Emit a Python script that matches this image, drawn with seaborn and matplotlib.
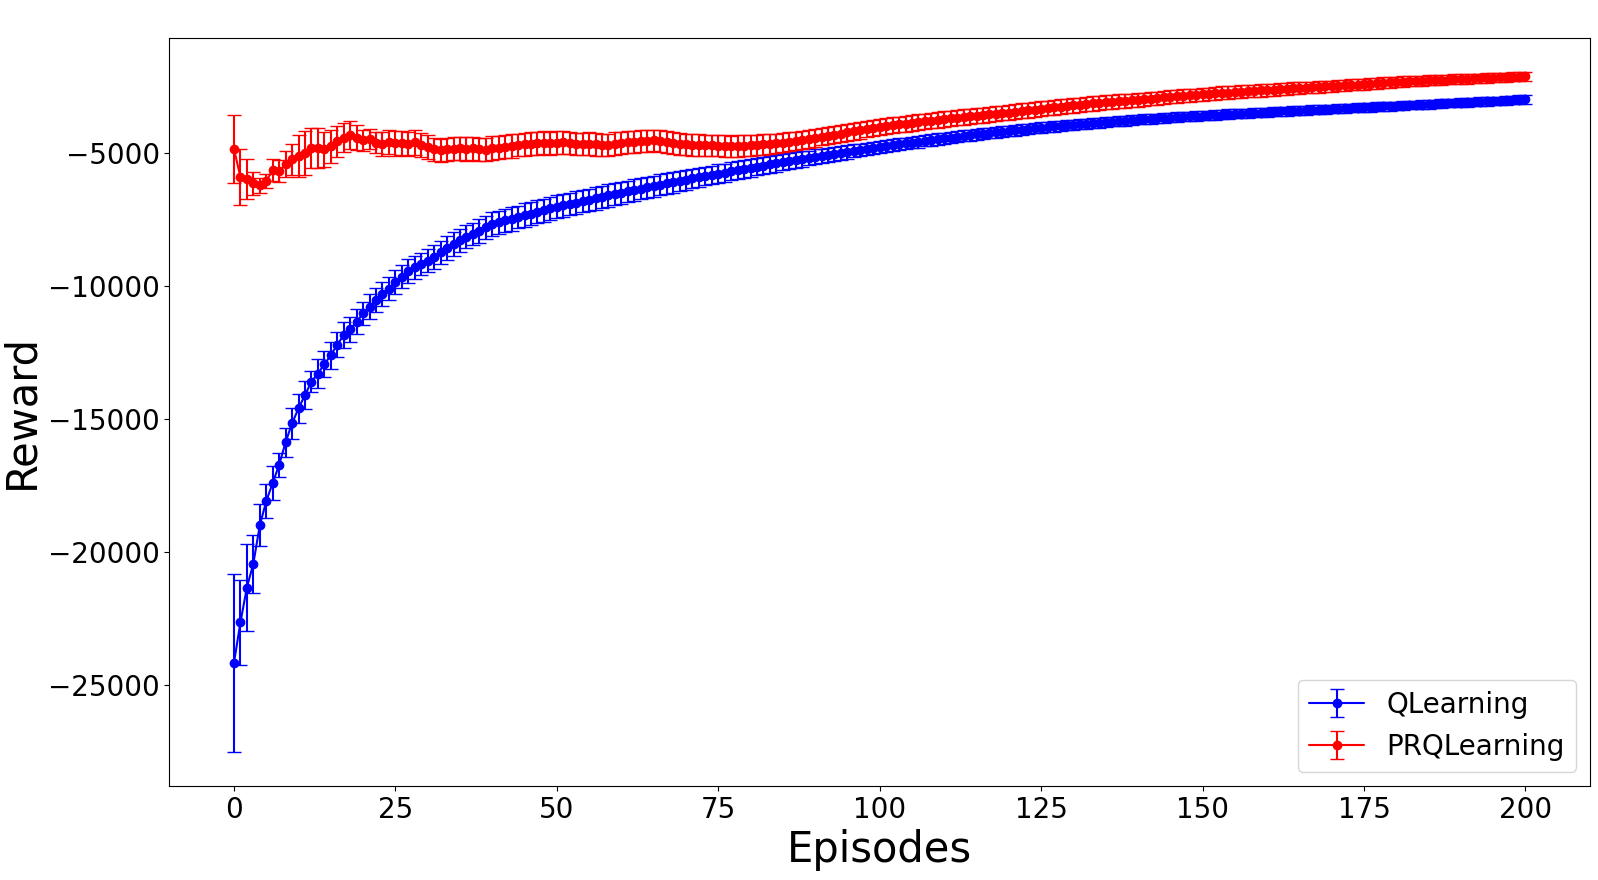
# reward curves for QLearning vs PRQLearning, mean +- error per episode

import numpy as np
import pandas as pd
import matplotlib
matplotlib.use("Agg")
import matplotlib.pyplot as plt
import seaborn as sns

episodes = list(range(201))

q_mean = [
    -24180, -22660, -21350, -20450, -19010, -18100, -17420, -16730, -15880, -15170,
    -14610, -14110, -13600, -13300, -12950, -12610, -12210, -11860, -11640, -11350,
    -11030, -10780, -10520, -10300, -10110, -9860, -9650, -9430, -9300, -9180,
    -9050, -8900, -8740, -8580, -8430, -8280, -8150, -8050, -7930, -7800,
    -7680, -7610, -7540, -7470, -7410, -7340, -7280, -7210, -7150, -7090,
    -7030, -6970, -6920, -6870, -6810, -6760, -6700, -6650, -6600, -6550,
    -6500, -6450, -6400, -6350, -6300, -6250, -6200, -6150, -6110, -6060,
    -6010, -5960, -5920, -5870, -5830, -5780, -5740, -5690, -5650, -5600,
    -5560, -5520, -5480, -5430, -5390, -5350, -5310, -5270, -5230, -5190,
    -5150, -5110, -5070, -5040, -5000, -4960, -4920, -4890, -4850, -4820,
    -4780, -4750, -4710, -4680, -4640, -4610, -4580, -4540, -4510, -4480,
    -4450, -4420, -4390, -4360, -4330, -4300, -4270, -4250, -4220, -4200,
    -4170, -4150, -4120, -4100, -4070, -4050, -4030, -4000, -3980, -3960,
    -3940, -3920, -3900, -3880, -3860, -3840, -3820, -3800, -3790, -3770,
    -3750, -3730, -3720, -3700, -3690, -3670, -3650, -3640, -3620, -3610,
    -3600, -3580, -3570, -3560, -3540, -3530, -3520, -3500, -3490, -3480,
    -3470, -3460, -3440, -3430, -3420, -3410, -3400, -3380, -3370, -3360,
    -3350, -3340, -3320, -3310, -3300, -3290, -3280, -3260, -3250, -3240,
    -3230, -3220, -3200, -3190, -3180, -3170, -3160, -3140, -3130, -3120,
    -3110, -3100, -3080, -3070, -3060, -3050, -3040, -3020, -3010, -3000,
    -2990,
]

q_err = [
    3350, 1610, 1650, 1090, 790, 650, 650, 460, 550, 580,
    540, 520, 400, 530, 480, 500, 470, 490, 460, 480,
    440, 470, 450, 460, 440, 450, 430, 450, 440, 430,
    440, 450, 430, 440, 450, 430, 440, 430, 450, 440,
    440, 430, 440, 450, 430, 440, 430, 440, 430, 440,
    430, 440, 430, 420, 430, 420, 430, 420, 420, 410,
    420, 410, 410, 400, 400, 390, 390, 380, 380, 370,
    370, 360, 360, 350, 350, 350, 340, 340, 340, 330,
    330, 320, 320, 310, 310, 300, 300, 290, 290, 280,
    280, 270, 270, 260, 260, 250, 250, 240, 240, 235,
    230, 230, 225, 225, 220, 220, 220, 215, 215, 215,
    210, 210, 210, 210, 205, 205, 205, 205, 200, 200,
    200, 200, 200, 195, 195, 195, 195, 195, 190, 190,
    190, 190, 190, 190, 185, 185, 185, 185, 185, 185,
    180, 180, 180, 180, 180, 180, 180, 175, 175, 175,
    175, 175, 175, 175, 175, 170, 170, 170, 170, 170,
    170, 170, 170, 170, 170, 165, 165, 165, 165, 165,
    165, 165, 165, 165, 165, 165, 165, 165, 165, 165,
    160, 160, 160, 160, 160, 160, 160, 160, 160, 160,
    160, 160, 160, 160, 160, 160, 160, 160, 160, 160,
    160,
]

prq_mean = [
    -4850, -5910, -5990, -6150, -6210, -6060, -5640, -5680, -5430, -5240,
    -5120, -5000, -4810, -4810, -4870, -4750, -4560, -4430, -4340, -4430,
    -4530, -4490, -4620, -4650, -4600, -4640, -4620, -4660, -4600, -4700,
    -4780, -4860, -4900, -4870, -4840, -4820, -4850, -4830, -4870, -4880,
    -4820, -4800, -4760, -4740, -4700, -4680, -4650, -4640, -4620, -4640,
    -4610, -4600, -4620, -4650, -4670, -4660, -4680, -4700, -4690, -4650,
    -4620, -4600, -4580, -4560, -4540, -4530, -4550, -4590, -4630, -4660,
    -4680, -4690, -4700, -4710, -4720, -4730, -4740, -4750, -4740, -4730,
    -4720, -4700, -4680, -4660, -4640, -4610, -4580, -4550, -4510, -4470,
    -4430, -4390, -4350, -4310, -4270, -4230, -4190, -4150, -4110, -4060,
    -4020, -3990, -3960, -3930, -3900, -3870, -3840, -3810, -3790, -3760,
    -3730, -3700, -3680, -3650, -3630, -3600, -3580, -3550, -3530, -3500,
    -3480, -3450, -3420, -3400, -3370, -3340, -3310, -3290, -3260, -3240,
    -3210, -3190, -3170, -3140, -3120, -3100, -3080, -3060, -3040, -3020,
    -3000, -2980, -2960, -2940, -2910, -2890, -2870, -2850, -2830, -2820,
    -2800, -2780, -2760, -2740, -2730, -2710, -2690, -2680, -2660, -2650,
    -2630, -2620, -2600, -2590, -2570, -2560, -2540, -2530, -2520, -2500,
    -2490, -2470, -2460, -2440, -2430, -2410, -2400, -2380, -2360, -2350,
    -2330, -2320, -2310, -2300, -2280, -2270, -2260, -2250, -2240, -2230,
    -2220, -2210, -2200, -2190, -2180, -2170, -2160, -2150, -2140, -2130,
    -2120,
]

prq_err = [
    1290, 1040, 750, 430, 280, 250, 420, 400, 490, 590,
    800, 840, 750, 750, 650, 620, 590, 550, 530, 470,
    380, 380, 400, 450, 450, 460, 440, 450, 460, 440,
    450, 430, 440, 450, 440, 430, 450, 440, 430, 440,
    450, 440, 430, 440, 430, 420, 430, 420, 430, 420,
    420, 430, 420, 410, 420, 430, 420, 410, 420, 420,
    410, 420, 420, 410, 420, 410, 420, 410, 420, 410,
    410, 420, 410, 400, 410, 400, 410, 400, 400, 390,
    390, 380, 380, 370, 370, 360, 360, 350, 350, 340,
    340, 330, 330, 320, 320, 315, 310, 310, 305, 300,
    300, 300, 300, 295, 295, 295, 295, 290, 290, 290,
    290, 290, 285, 285, 285, 285, 285, 280, 280, 280,
    280, 280, 280, 280, 275, 275, 275, 275, 270, 270,
    270, 270, 265, 265, 265, 260, 260, 260, 255, 255,
    255, 250, 250, 250, 250, 245, 245, 245, 245, 240,
    240, 240, 240, 240, 235, 235, 235, 230, 230, 230,
    230, 225, 225, 225, 220, 220, 220, 215, 215, 215,
    210, 210, 210, 205, 205, 205, 200, 200, 200, 195,
    195, 195, 190, 190, 190, 185, 185, 185, 180, 180,
    180, 180, 175, 175, 175, 175, 175, 170, 170, 170,
    170,
]

df = pd.DataFrame({
    'episode': episodes,
    'QLearning': q_mean, 'QLearning_err': q_err,
    'PRQLearning': prq_mean, 'PRQLearning_err': prq_err,
})

sns.set_style("ticks", {"axes.edgecolor": "black", "xtick.color": "black",
                        "ytick.color": "black", "text.color": "black",
                        "axes.labelcolor": "black"})
plt.rcParams['font.family'] = ['DejaVu Sans']

fig, ax = plt.subplots(figsize=(15.98, 8.8), dpi=100)
fig.subplots_adjust(left=0.106, right=0.995, top=0.957, bottom=0.107)

for name, color in [('QLearning', 'blue'), ('PRQLearning', 'red')]:
    ax.errorbar(df['episode'], df[name], yerr=df[name + '_err'],
                fmt='-o', color=color, capsize=5, label=name)

ax.set_xticks([0, 25, 50, 75, 100, 125, 150, 175, 200])
ax.set_yticks([-25000, -20000, -15000, -10000, -5000])
ax.tick_params(labelsize=20)
ax.set_xlabel('Episodes', fontsize=30)
ax.set_ylabel('Reward', fontsize=30)
ax.legend(loc='lower right', fontsize=20)

fig.savefig('out.png', dpi=100)
